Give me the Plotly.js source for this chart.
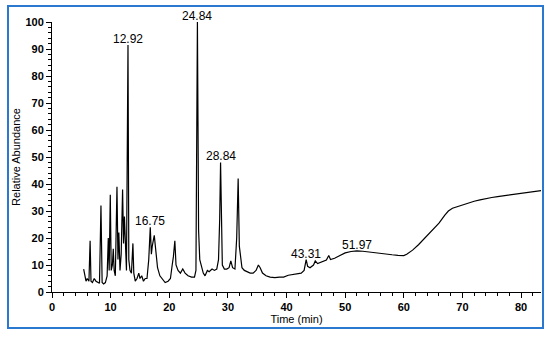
<!DOCTYPE html>
<html>
<head>
<meta charset="utf-8">
<script src="https://cdn.plot.ly/plotly-3.0.1.min.js"></script>
<style>
html,body{margin:0;padding:0;background:#fff;}
#wrap{position:relative;width:550px;height:339px;}
#chart{position:absolute;left:0;top:0;width:550px;height:339px;}
#frame{position:absolute;left:7px;top:5px;width:533px;height:320px;border:2px solid #2a78d0;pointer-events:none;}
</style>
</head>
<body>
<div id="wrap"><div id="chart"></div><div id="frame"></div></div>
<script>
// Retention time (min)
var time = [5.4,5.6,5.8,6.0,6.3,6.5,6.65,6.9,7.2,7.5,7.8,8.1,8.35,8.55,8.8,9.1,9.4,9.6,9.75,9.94,10.1,10.3,10.45,10.6,10.8,11.08,11.25,11.4,11.6,11.8,12.04,12.2,12.35,12.55,12.7,12.96,13.1,13.3,13.55,13.8,13.95,14.2,14.5,14.8,15.0,15.3,15.6,15.9,16.2,16.5,16.76,16.95,17.1,17.44,17.7,18.0,18.4,18.8,19.3,19.8,20.2,20.5,20.7,20.95,21.15,21.5,21.9,22.3,22.7,23.2,23.8,24.3,24.55,24.7,24.8,24.9,25.0,25.2,25.5,25.8,26.1,26.5,26.8,27.3,27.7,28.1,28.4,28.6,28.75,28.9,29.05,29.4,29.8,30.2,30.5,30.8,31.2,31.5,31.75,31.95,32.15,32.4,32.8,33.3,33.8,34.3,34.8,35.2,35.5,35.9,36.5,37.2,38.0,38.8,39.5,40.3,41.0,41.8,42.5,43.0,43.35,43.6,44.0,44.6,44.9,45.3,46.0,46.8,47.2,47.5,48.2,49.0,50.0,51.0,52.0,53.0,54.0,55.0,56.0,57.0,58.0,59.0,60.0,60.5,61.5,62.5,63.5,64.5,65.5,66.0,67.0,67.6,68.3,69.0,70.0,71.0,72.0,73.0,74.0,75.0,76.0,77.0,78.0,79.0,80.0,81.0,82.0,83.0,83.5];
// Relative abundance (%)
var abundance = [8.5,6,4,5,4,19,4,3.5,5,4,3.5,3.2,32,3.5,3,3.5,6,20,8,36,8,10,16,8,6,39,12,22,8,14,38,18,28,10,8,91.5,12,8,7,18,7,4,5,7,5,6,4,5,5,12,24,14,17,21,14,9,6,5,3.5,4,5,10,13,19,10,8,7,8.5,7,6,5.5,5.5,8,63,100,63,23,12,9,7,6,8,7.5,8.5,8,8.5,12,27,48,27,10,8.5,8.5,9,11.5,9,8.5,20,42,17,12,9,8,7.5,7,7,8,10,9,7,6,5.5,5.3,5.5,5.5,6.2,6.5,6.8,7,8,12,9.5,9,10,11.5,10.5,11,11.8,13.5,12,12.5,13.5,14.5,15,15.2,15.1,14.8,14.5,14.2,14,13.8,13.6,13.5,14,15.5,17.5,19.8,22,24.2,25.5,28.5,30,31,31.5,32.3,33,33.6,34.1,34.6,35,35.3,35.6,35.9,36.2,36.5,36.8,37.1,37.4,37.6];
// Labelled peaks
var peakLabels = ["12.92","16.75","24.84","28.84","43.31","51.97"];
var peakTime = [12.96,16.76,24.8,28.75,43.35,52.0];
var peakHeight = [91.5,24,100,48,12,15.2];

var annotations = peakLabels.map(function(t,i){
  return {x:peakTime[i], y:peakHeight[i], xref:'x', yref:'y', text:t, showarrow:false,
    yanchor:'bottom', xanchor:'center', yshift:-3,
    font:{family:'Liberation Sans, Arial, sans-serif', size:12, color:'#000'}};
});

var trace = {x:time, y:abundance, type:'scatter', mode:'lines',
  line:{color:'#000', width:1.2}, hoverinfo:'skip', cliponaxis:false};

var layout = {
  width:550, height:339,
  margin:{l:52, r:9, t:22, b:47},
  paper_bgcolor:'#fff', plot_bgcolor:'#fff',
  showlegend:false,
  font:{family:'Liberation Sans, Arial, sans-serif', color:'#000'},
  xaxis:{range:[0,83.4], showline:true, linecolor:'#000', linewidth:1, showgrid:false, zeroline:false,
    ticks:'outside', ticklen:5, tickwidth:1, tickcolor:'#000', dtick:10, tick0:0,
    minor:{dtick:2, ticks:'outside', ticklen:3, tickwidth:1, tickcolor:'#000', showgrid:false},
    tickfont:{size:11, weight:'bold'},
    title:{text:'Time (min)', font:{size:11}, standoff:0}},
  yaxis:{range:[0,100], showline:true, linecolor:'#000', linewidth:1, showgrid:false, zeroline:false,
    ticks:'outside', ticklen:5, tickwidth:1, tickcolor:'#000', dtick:10, tick0:0,
    minor:{dtick:2, ticks:'outside', ticklen:3, tickwidth:1, tickcolor:'#000', showgrid:false},
    tickfont:{size:11, weight:'bold'},
    title:{text:'Relative Abundance', font:{size:11}, standoff:2}},
  annotations:annotations
};

Plotly.newPlot('chart',[trace],layout,{staticPlot:true, displayModeBar:false});
</script>
</body>
</html>
